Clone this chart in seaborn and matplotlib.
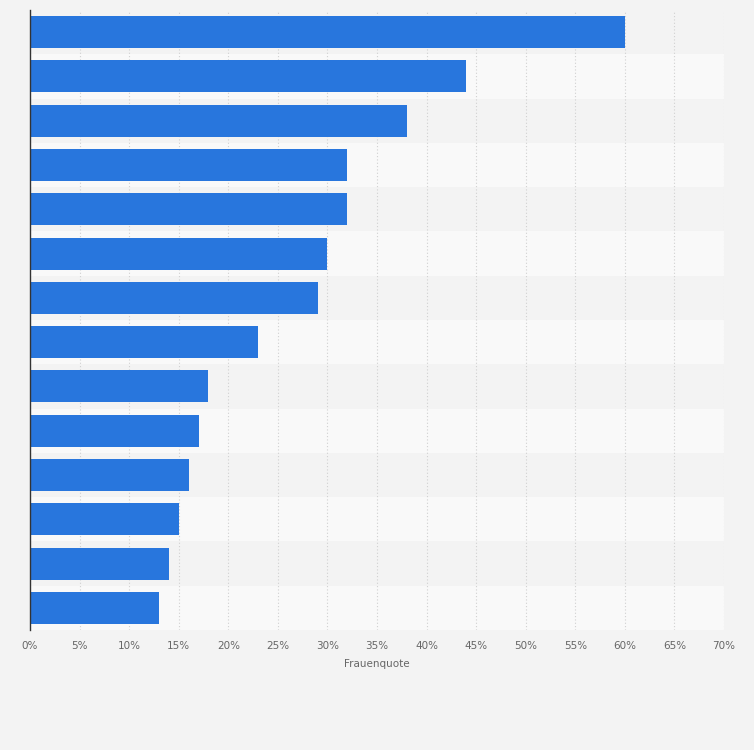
import matplotlib
matplotlib.use("Agg")
import matplotlib.pyplot as plt
import seaborn as sns
import pandas as pd

categories = [f"K{i}" for i in range(1, 15)]
values = [60, 44, 38, 32, 32, 30, 29, 23, 18, 17, 16, 15, 14, 13]
ticks = list(range(0, 75, 5))
tick_labels = [f"{t}%" for t in ticks]

df = pd.DataFrame({"cat": categories, "val": values})

fig = plt.figure(figsize=(7.54, 7.50), dpi=100)
fig.patch.set_facecolor("#f3f3f3")
ax = fig.add_axes([30/754, 1-630/750, 694/754, 620/750])
ax.set_facecolor("#f3f3f3")

for i in range(len(categories)):
    ax.axhspan(i-0.5, i+0.5, color="#f3f3f3" if i % 2 == 0 else "#f9f9f9", zorder=0, lw=0)

sns.barplot(data=df, x="val", y="cat", orient="h", color="#2876dd", width=0.72,
            saturation=1, ax=ax, zorder=3)
ax.set_xlim(0, 70)
ax.set_ylim(len(categories)-0.5, -0.5)
ax.set_xticks(ticks)
ax.set_xticklabels(tick_labels, fontsize=7.5, color="#666666")
ax.set_yticks([])
ax.set_ylabel("")
ax.set_xlabel("Frauenquote", fontsize=7.5, color="#666666", labelpad=6)
ax.tick_params(axis="x", length=0, pad=8)
for t in ticks[1:]:
    ax.axvline(t, color="#d0d0d0", lw=0.8, ls=(0, (1, 2)), zorder=1)
for s in ["top", "right", "bottom"]:
    ax.spines[s].set_visible(False)
ax.spines["left"].set_color("#333333")
ax.spines["left"].set_linewidth(1)
ax.spines["left"].set_zorder(5)
fig.savefig("out.png", dpi=100, facecolor=fig.get_facecolor())
